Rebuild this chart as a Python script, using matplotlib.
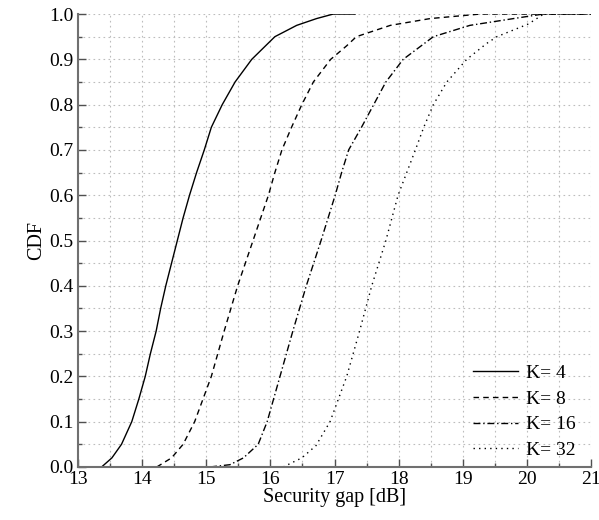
import matplotlib
matplotlib.use("Agg")
import matplotlib.pyplot as plt
from matplotlib.ticker import MultipleLocator

plt.rcParams['font.family'] = ['Liberation Serif', 'DejaVu Serif']
plt.rcParams['mathtext.fontset'] = 'stix'

# Data (Security gap [dB] vs CDF)
k4_x = [13.37, 13.53, 13.68, 13.84, 13.95, 14.05, 14.13, 14.22, 14.29, 14.37, 14.46, 14.55,
        14.64, 14.74, 14.85, 14.97, 15.08, 15.25, 15.45, 15.71, 16.07, 16.41, 16.72, 16.98, 17.32]
k4_y = [0, 0.02, 0.05, 0.1, 0.15, 0.2, 0.25, 0.3, 0.35, 0.4, 0.45, 0.5,
        0.55, 0.6, 0.65, 0.7, 0.75, 0.8, 0.85, 0.9, 0.95, 0.975, 0.99, 1.0, 1.0]

k8_x = [14.23, 14.46, 14.64, 14.82, 14.95, 15.08, 15.28, 15.49, 15.73, 15.85, 15.97, 16.07,
        16.18, 16.33, 16.49, 16.67, 16.94, 17.19, 17.34, 17.87, 18.49, 19.27, 21.0]
k8_y = [0, 0.02, 0.05, 0.1, 0.15, 0.2, 0.3, 0.4, 0.5, 0.55, 0.6, 0.65,
        0.7, 0.75, 0.8, 0.85, 0.9, 0.93, 0.95, 0.975, 0.99, 1.0, 1.0]

k16_x = [15.06, 15.37, 15.58, 15.81, 15.95, 16.05, 16.15, 16.35, 16.56, 16.79, 16.9, 17.01,
         17.11, 17.22, 17.42, 17.61, 17.8, 18.07, 18.54, 19.11, 19.79, 20.25, 21.0]
k16_y = [0, 0.005, 0.02, 0.05, 0.1, 0.15, 0.2, 0.3, 0.4, 0.5, 0.55, 0.6,
         0.65, 0.7, 0.75, 0.8, 0.85, 0.9, 0.95, 0.975, 0.99, 1.0, 1.0]

k32_x = [16.2, 16.49, 16.71, 16.93, 17.06, 17.19, 17.39, 17.58, 17.8, 17.99, 18.26, 18.39,
         18.54, 18.75, 19.06, 19.37, 19.53, 20.02, 20.26, 21.0]
k32_y = [0, 0.02, 0.047, 0.1, 0.15, 0.2, 0.3, 0.4, 0.5, 0.6, 0.7, 0.75,
         0.8, 0.85, 0.9, 0.935, 0.95, 0.978, 1.0, 1.0]

labels = ["K= 4", "K= 8", "K= 16", "K= 32"]
x_ticks = [13, 14, 15, 16, 17, 18, 19, 20, 21]
y_ticks = [0.0, 0.1, 0.2, 0.3, 0.4, 0.5, 0.6, 0.7, 0.8, 0.9, 1.0]

fig = plt.figure(figsize=(5.99, 5.20), dpi=100)
ax = fig.add_axes([0.130, 0.102, 0.857, 0.871])

lw = 1.0
ax.plot(k4_x, k4_y, color='black', lw=lw, linestyle='-', label=labels[0])
ax.plot(k8_x, k8_y, color='black', lw=lw, linestyle=(0, (4, 3)), label=labels[1])
ax.plot(k16_x, k16_y, color='black', lw=lw, linestyle=(0, (5, 2, 1, 2)), label=labels[2])
ax.plot(k32_x, k32_y, color='black', lw=lw, linestyle=(0, (1, 3)), label=labels[3])

ax.set_xlim(13, 21)
ax.set_ylim(0, 1.0)
ax.set_xticks(x_ticks)
ax.set_yticks(y_ticks)
ax.set_xticklabels([str(t) for t in x_ticks])
ax.set_yticklabels([f"{t:.1f}" for t in y_ticks])
ax.xaxis.set_minor_locator(MultipleLocator(0.5))
ax.yaxis.set_minor_locator(MultipleLocator(0.05))

ax.grid(True, which='both', color='#bdbdbd', linestyle=(0, (1.5, 3)), linewidth=0.8)
ax.set_axisbelow(True)

for s in ['top', 'right']:
    ax.spines[s].set_visible(False)
for s in ['left', 'bottom']:
    ax.spines[s].set_color('#707070')
    ax.spines[s].set_linewidth(1.5)

ax.tick_params(which='major', direction='in', length=6, width=1.0, color='#505050',
               labelsize=14, pad=3)
ax.tick_params(which='minor', direction='in', length=3, width=1.0, color='#505050')
ax.tick_params(top=False, right=False, which='both')

ax.set_xlabel("Security gap [dB]", fontsize=14.5, labelpad=0)
ax.set_ylabel("CDF", fontsize=14.5, labelpad=2)

leg = ax.legend(loc='lower right', frameon=False, fontsize=14, handlelength=2.35,
                handletextpad=0.4, labelspacing=0.42, borderaxespad=0.0,
                bbox_to_anchor=(0.985, 0.0))

fig.savefig("out.png", dpi=100)
